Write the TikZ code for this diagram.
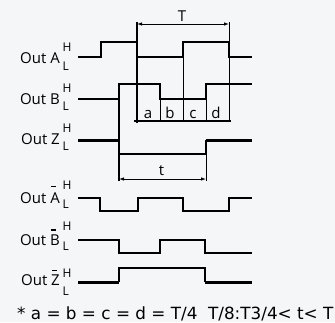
\documentclass[tikz,border=0pt]{standalone}
\usepackage{fontspec}
\setmainfont{Open Sans}
\newfontfamily\notefont{DejaVu Sans}
\usetikzlibrary{arrows.meta}
\definecolor{paper}{HTML}{F5F6F8}
% inverted channel letter with a short bar above it
\newcommand\negbar[3]{\rlap{\hspace{1pt}\rule[#2]{4.5pt}{#3}}#1}

\begin{document}
\begin{tikzpicture}[x=1pt, y=-1pt,
	lbl/.style={inner sep=0pt, anchor=base east, font=\fontsize{15}{18}\selectfont},
	lvl/.style={inner sep=0pt, anchor=base west, font=\fontsize{12}{14}\selectfont},
	tag/.style={inner sep=0pt, anchor=base, font=\fontsize{15}{18}\selectfont},
	sig/.style={line width=1.8pt},
	heavy/.style={line width=3pt},
	guide/.style={line width=0.8pt},
	span/.style={line width=0.8pt, {Latex[length=5pt,width=3.5pt]}-{Latex[length=5pt,width=3.5pt]}}]
	\fill[paper] (0,0) rectangle (335,322);
	\useasboundingbox (0,0) rectangle (335,322);
	
	% channel labels
	\node[lbl] (outA) at (60,63.5) {Out A};
	\node[lvl] (hA) at (62.5,51.5) {H};
	\node[lvl] (lA) at (62.5,70.5) {L};
	\node[lbl] (outB) at (60,104) {Out B};
	\node[lvl] (hB) at (62.5,92.5) {H};
	\node[lvl] (lB) at (62.5,110.5) {L};
	\node[lbl] (outZ) at (60,144) {Out Z};
	\node[lvl] (hZ) at (62.5,132.5) {H};
	\node[lvl] (lZ) at (62.5,150.5) {L};
	\node[lbl] (outAn) at (60,203) {Out \negbar{A}{16pt}{0.8pt}};
	\node[lvl] (hAn) at (62.5,189.5) {H};
	\node[lvl] (lAn) at (62.5,208.5) {L};
	\node[lbl] (outBn) at (60,245) {Out \negbar{B}{14.2pt}{1.6pt}};
	\node[lvl] (hBn) at (62.5,230.5) {H};
	\node[lvl] (lBn) at (62.5,250.5) {L};
	\node[lbl] (outZn) at (60,285) {Out \negbar{Z}{14.6pt}{0.8pt}};
	\node[lvl] (hZn) at (62.5,277.5) {H};
	\node[lvl] (lZn) at (62.5,295.5) {L};
	
	% waveforms
	\draw[sig] (78,57) -| (101,42) -| (137,57) -| (183,42) -| (229,57) -- (252,57);
	\draw[sig] (78,99) -| (119,84) -| (160,99) -| (206,84) -- (252,84);
	\draw[heavy] (78,140) -- (119,140);
	\draw[sig] (119,140) |- (206,154) -- (206,140);
	\draw[heavy] (206,140) -- (252,140);
	\draw[sig] (78,198) -| (100,211) -| (138,198) -| (183,211) -| (229,198) -- (252,198);
	\draw[sig] (78,240) -| (119,253) -| (160,240) -| (205,253) -- (252,253);
	\draw[heavy] (78,282) -- (119,282);
	\draw[sig] (119,282) |- (205,268) -- (205,282);
	\draw[heavy] (205,282) -- (252,282);
	
	% guides
	\draw[line width=1.3pt] (137,22) -- (137,123);
	\draw[line width=1.4pt] (119,99) -- (119,181);
	\draw[guide] (183,42) -- (183,121);
	\draw[guide] (229,22) -- (229,121);
	\draw[guide] (160,99) -- (160,121);
	\draw[guide] (206,99) -- (206,121);
	\draw[guide] (206,154) -- (206,181);
	\draw[line width=1.3pt] (134,121) -- (231,121);
	
	% periods
	\coordinate (Tl) at (137,24);
	\coordinate (Tr) at (229,24);
	\draw[span] (Tl) -- (Tr);
	\node[tag] (perT) at (182,21) {T};
	\coordinate (tl) at (119,179);
	\coordinate (tr) at (206,179);
	\draw[span] (tl) -- (tr);
	\node[tag] (pulse) at (161.5,175) {t};
	\node[tag] (qa) at (148,118) {a};
	\node[tag] (qb) at (170,118) {b};
	\node[tag] (qc) at (193,118) {c};
	\node[tag] (qd) at (216,118) {d};
	
	% footnote
	\node[inner sep=0pt, anchor=base west, font=\notefont\fontsize{16.8}{19}\selectfont] (foot) at (17,319.5) {* a = b = c = d = T/4~ T/8:T3/4< t< T};
\end{tikzpicture}
\end{document}
